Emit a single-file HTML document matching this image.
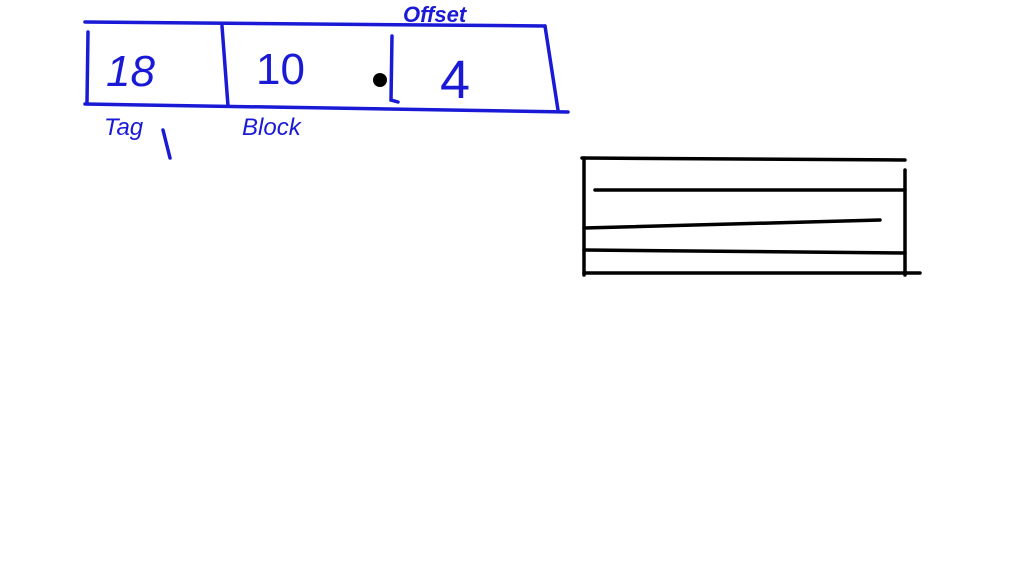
<!DOCTYPE html>
<html><head><meta charset="utf-8"><style>
html,body{margin:0;padding:0;background:#fff;width:1024px;height:576px;overflow:hidden}
svg{display:block}
text{font-family:"Liberation Sans",sans-serif}
</style></head><body>
<svg width="1024" height="576" viewBox="0 0 1024 576">
<g stroke="#1a1ad6" stroke-width="3.5" fill="none" stroke-linecap="round">
<path d="M85 22 L545 26"/>
<path d="M85 104 L568 112"/>
<path d="M88 32 L87 102"/>
<path d="M222 26 L228 106"/>
<path d="M392 36 L391 100 L398 102"/>
<path d="M545 26 L558 110"/>
<path d="M163 130 L170 158"/>
</g>
<g fill="#1a1ad6">
<text x="106" y="86" font-size="44" font-style="italic">18</text>
<text x="256" y="84" font-size="44">10</text>
<text x="440" y="98" font-size="54">4</text>
<text x="104" y="135" font-size="24" font-style="italic">Tag</text>
<text x="242" y="135" font-size="24" font-style="italic">Block</text>
<text x="403" y="22" font-size="22" font-weight="bold" font-style="italic">Offset</text>
</g>
<circle cx="380" cy="80" r="7" fill="#000"/>
<g stroke="#000" stroke-width="3.5" fill="none" stroke-linecap="round">
<path d="M582 158 L905 160"/>
<path d="M584 158 L584 275"/>
<path d="M595 190 L905 190"/>
<path d="M584 228 L880 220"/>
<path d="M584 250 L905 253"/>
<path d="M584 273 L920 273"/>
<path d="M905 170 L905 275"/>
</g>
</svg>
</body></html>
